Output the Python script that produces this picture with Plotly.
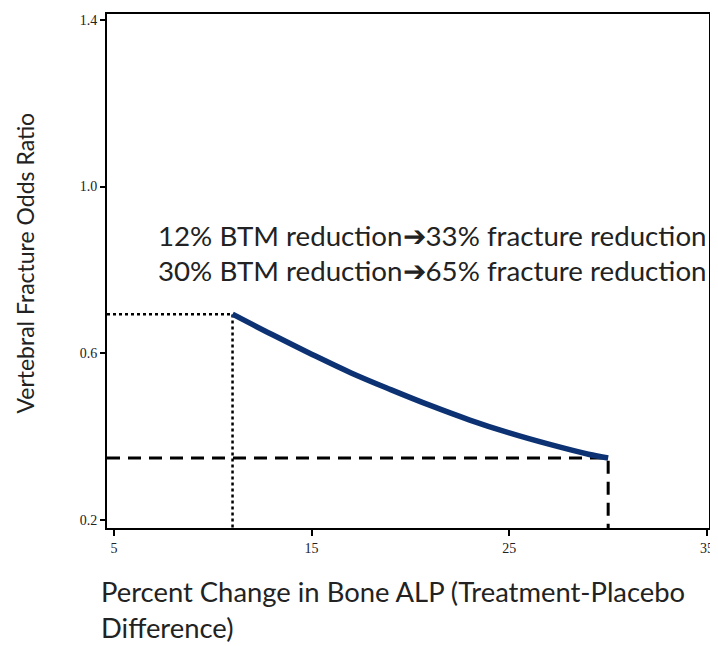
import plotly.graph_objects as go

# Data
bone_alp_change = [11, 13, 15, 17, 19, 21, 23, 25, 27, 29, 30]
fracture_odds_ratio = [0.694, 0.645, 0.598, 0.553, 0.513, 0.475, 0.440, 0.409, 0.382, 0.358, 0.349]

x_ticks = [5, 15, 25, 35]
y_ticks = [0.2, 0.6, 1.0, 1.4]
y_tick_labels = ["0.2", "0.6", "1.0", "1.4"]

x_range = [4.65, 35.1]
y_range = [0.181, 1.414]

ref_low = (bone_alp_change[0], fracture_odds_ratio[0])
ref_high = (bone_alp_change[-1], fracture_odds_ratio[-1])

annotation_lines = [
    "12% BTM reduction\u279433% fracture reduction",
    "30% BTM reduction\u279465% fracture reduction",
]

# The page body has an 8px margin; size the figure so it fits the 718x646 window.
W, H = 710, 638
ML, MR, MT, MB = 99, 5, 4, 118
PW, PH = W - ML - MR, H - MT - MB


def px(sx):
    return (sx - 8 - ML) / PW


def py(sy):
    return 1 - (sy - 8 - MT) / PH


fig = go.Figure()

# dotted reference lines for the 12% point
fig.add_trace(go.Scatter(
    x=[x_range[0], ref_low[0], ref_low[0]],
    y=[ref_low[1], ref_low[1], y_range[0]],
    mode="lines", line=dict(color="black", width=2.5, dash="dot"),
    hoverinfo="skip", showlegend=False))

# dashed reference lines for the 30% point
fig.add_trace(go.Scatter(
    x=[x_range[0], ref_high[0], ref_high[0]],
    y=[ref_high[1], ref_high[1], y_range[0]],
    mode="lines", line=dict(color="black", width=3, dash="13px,8px"),
    hoverinfo="skip", showlegend=False))

# main curve
fig.add_trace(go.Scatter(
    x=bone_alp_change, y=fracture_odds_ratio,
    mode="lines", line=dict(color="#0d3273", width=5.5, shape="spline"),
    showlegend=False))

fig.update_layout(
    width=W, height=H,
    margin=dict(l=ML, r=MR, t=MT, b=MB),
    paper_bgcolor="white", plot_bgcolor="white",
    font=dict(family="Lato", color="#222"),
)

tickfont = dict(family="Liberation Serif", size=14, color="#222")
fig.update_xaxes(
    range=x_range, tickvals=x_ticks, ticktext=[str(t) for t in x_ticks],
    showgrid=False, zeroline=False,
    showline=True, linecolor="black", linewidth=2, mirror=True,
    ticks="outside", ticklen=6, tickcolor="black", tickwidth=1.5,
    tickfont=tickfont,
)
fig.update_yaxes(
    range=y_range, tickvals=y_ticks, ticktext=y_tick_labels,
    showgrid=False, zeroline=False,
    showline=True, linecolor="black", linewidth=2, mirror=True,
    ticks="outside", ticklen=5, tickcolor="black", tickwidth=1.5,
    tickfont=tickfont,
)

ann = []
for i, line in enumerate(annotation_lines):
    ann.append(dict(
        x=px(156), y=py(234 + 35 * i),
        xref="paper", yref="paper", text=line, showarrow=False,
        xanchor="left", yanchor="middle",
        font=dict(family="Lato", size=27.7, color="#222")))

# y-axis title
ann.append(dict(
    x=px(24), y=py(262),
    xref="paper", yref="paper", text="Vertebral Fracture Odds Ratio",
    textangle=-90, showarrow=False, xanchor="center", yanchor="middle",
    font=dict(family="Lato", size=23, color="#222")))

# x-axis title (two lines)
ann.append(dict(
    x=px(99), y=py(610),
    xref="paper", yref="paper",
    text="Percent Change in Bone ALP (Treatment-Placebo<br>Difference)",
    showarrow=False, xanchor="left", yanchor="middle", align="left",
    font=dict(family="Lato", size=27.4, color="#222")))

fig.update_layout(annotations=ann)

fig.write_html("out.html")
